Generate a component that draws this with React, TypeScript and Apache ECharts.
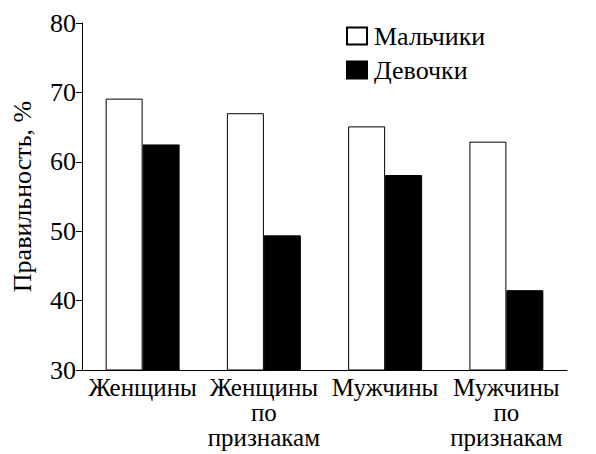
import React, { useEffect, useRef } from "react";
import * as echarts from "echarts";

const categories = ["Женщины", "Женщины\nпо\nпризнакам", "Мужчины", "Мужчины\nпо\nпризнакам"];
const boys = [69.1, 67.0, 65.1, 62.9];
const girls = [62.5, 49.4, 58.1, 41.5];
const seriesNames = ["Мальчики", "Девочки"];
const yAxisName = "Правильность, %";

const FONT = "Liberation Serif";

export default function App() {
  const ref = useRef<HTMLDivElement>(null);
  useEffect(() => {
    if (!ref.current) return;
    const chart = echarts.init(ref.current, null, { renderer: "svg" });
    chart.setOption({
      animation: false,
      backgroundColor: "#fff",
      textStyle: { fontFamily: FONT, color: "#000" },
      grid: { left: 82, right: 29, top: 23, bottom: 84, containLabel: false, outerBoundsMode: "none" },
      legend: {
        orient: "vertical",
        left: 341,
        top: 18,
        itemWidth: 20,
        itemHeight: 17,
        itemGap: 8,
        icon: "rect",
        textStyle: { fontFamily: FONT, fontSize: 26, color: "#000", padding: [0, 0, 0, 2] },
        data: seriesNames,
      },
      xAxis: {
        type: "category",
        data: categories,
        axisLine: { lineStyle: { color: "#000", width: 1 } },
        axisTick: { inside: true, length: 7, lineStyle: { color: "#000" } },
        axisLabel: {
          fontFamily: FONT,
          fontSize: 25,
          color: "#000",
          lineHeight: 25,
          margin: 5,
          interval: 0,
        },
      },
      yAxis: {
        type: "value",
        min: 30,
        max: 80,
        interval: 10,
        name: yAxisName,
        nameLocation: "middle",
        nameGap: 47,
        nameTextStyle: { fontFamily: FONT, fontSize: 26, color: "#000000" },
        axisLine: { show: true, lineStyle: { color: "#000", width: 1 } },
        axisTick: { show: true, inside: false, length: 6, lineStyle: { color: "#000" } },
        axisLabel: { fontFamily: FONT, fontSize: 26, color: "#000", margin: 6 },
        splitLine: { show: false },
      },
      series: [
        {
          name: seriesNames[0],
          type: "bar",
          data: boys,
          barGap: "0%",
          barCategoryGap: "39%",
          itemStyle: { color: "#fff", borderColor: "#000", borderWidth: 1 },
        },
        {
          name: seriesNames[1],
          type: "bar",
          data: girls,
          itemStyle: { color: "#000", borderColor: "#000", borderWidth: 1 },
        },
      ],
    });
    return () => chart.dispose();
  }, []);
  return <div ref={ref} style={{ width: 596, height: 454, position: "absolute", left: 0, top: 0 }} />;
}
